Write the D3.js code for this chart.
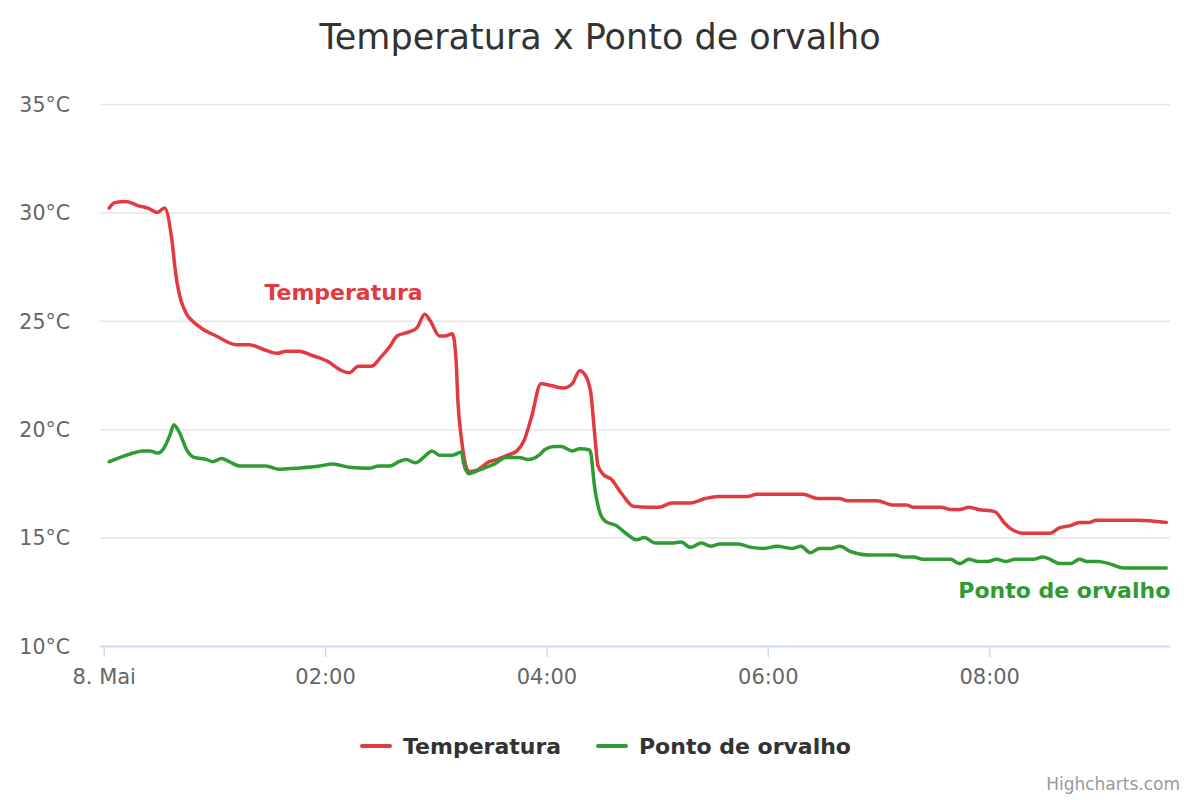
<!DOCTYPE html>
<html>
<head>
<meta charset="utf-8">
<script src="https://cdn.jsdelivr.net/npm/d3@7"></script>
<style>
  html, body { margin: 0; padding: 0; background: #fff; }
  svg { display: block; font-family: "DejaVu Sans", "Lucida Grande", Arial, sans-serif; }
</style>
</head>
<body>
<svg id="chart" width="1200" height="800"></svg>
<script>
// ---- data (minutes after 00:00 on 8 May, °C) ----
const seriesNames = ["Temperatura", "Ponto de orvalho"];
const seriesColors = ["#e23b3f", "#2f9b33"];

const tempTime = [3, 6, 12, 19, 24, 29, 33, 37, 39, 45, 48, 54, 61, 72, 79, 86, 94, 99, 106, 113,
  122, 128, 133, 138, 145, 150, 155, 159, 166, 170, 174, 177, 182, 185, 189, 191, 192, 194, 198, 202,
  209, 213, 219, 224, 228, 232, 237, 243, 249, 254, 258, 261, 264, 266, 268, 271, 275, 281, 287, 295,
  301, 308, 318, 326, 333, 349, 354, 379, 387, 399, 403, 419, 428, 435, 439, 454, 459, 464, 469, 474,
  483, 488, 491, 499, 513, 518, 524, 529, 534, 538, 560, 576];
const tempValue = [30.2, 30.45, 30.5, 30.3, 30.2, 30.0, 30.2, 28.7, 27.2, 25.3, 25.0, 24.6, 24.3, 23.9, 23.9, 23.7, 23.5, 23.6, 23.6, 23.4,
  23.1, 22.75, 22.6, 22.9, 22.9, 23.3, 23.8, 24.3, 24.5, 24.7, 25.3, 25.0, 24.3, 24.3, 24.4, 23.2, 21.3, 19.5, 18.05, 18.1,
  18.5, 18.6, 18.8, 19.0, 19.5, 20.6, 22.1, 22.0, 21.9, 22.1, 22.7, 22.5, 21.7, 19.9, 18.3, 17.9, 17.7, 17.0, 16.45, 16.4,
  16.4, 16.6, 16.6, 16.8, 16.9, 16.9, 17.0, 17.0, 16.8, 16.8, 16.7, 16.7, 16.5, 16.5, 16.4, 16.4, 16.3, 16.3, 16.4, 16.3,
  16.2, 15.7, 15.45, 15.2, 15.2, 15.45, 15.55, 15.7, 15.7, 15.8, 15.8, 15.7];

const dewTime = [3, 9, 16, 21, 25, 29, 32, 36, 38, 41, 45, 49, 56, 59, 64, 68, 74, 88, 95, 104,
  117, 124, 133, 144, 149, 155, 160, 164, 169, 174, 178, 182, 189, 194, 195, 198, 203, 209, 212, 218,
  225, 230, 236, 239, 244, 248, 254, 258, 263, 264, 266, 269, 272, 278, 283, 289, 293, 299, 308, 313,
  318, 324, 329, 334, 344, 351, 358, 365, 373, 378, 383, 388, 394, 399, 405, 414, 429, 434, 439, 444,
  459, 464, 469, 474, 479, 484, 489, 494, 504, 509, 513, 518, 524, 529, 533, 539, 545, 553, 576];
const dewValue = [18.5, 18.7, 18.9, 19.0, 19.0, 18.9, 19.05, 19.75, 20.2, 19.85, 19.05, 18.7, 18.6, 18.5, 18.65, 18.5, 18.3, 18.3, 18.15, 18.2,
  18.3, 18.4, 18.25, 18.2, 18.3, 18.3, 18.5, 18.6, 18.45, 18.75, 19.0, 18.8, 18.8, 18.95, 18.45, 17.95, 18.1, 18.3, 18.4, 18.7,
  18.7, 18.6, 18.8, 19.05, 19.2, 19.2, 19.0, 19.1, 19.05, 18.9, 17.4, 16.15, 15.75, 15.55, 15.2, 14.9, 15.0, 14.75, 14.75, 14.8,
  14.55, 14.75, 14.6, 14.7, 14.7, 14.55, 14.5, 14.6, 14.5, 14.6, 14.3, 14.5, 14.5, 14.6, 14.35, 14.2, 14.2, 14.1, 14.1, 14.0,
  14.0, 13.8, 14.0, 13.9, 13.9, 14.0, 13.9, 14.0, 14.0, 14.1, 14.0, 13.8, 13.8, 14.0, 13.9, 13.9, 13.8, 13.6, 13.6];

const yTicks = [10, 15, 20, 25, 30, 35];
const xTicks = [0, 120, 240, 360, 480];
const xTickLabels = ["8. Mai", "02:00", "04:00", "06:00", "08:00"];
const titleText = "Temperatura x Ponto de orvalho";
const creditText = "Highcharts.com";

// ---- layout ----
const svg = d3.select("#chart");
const plot = { left: 100, right: 1170, top: 104, bottom: 646 };

const x = d3.scaleLinear().domain([-2, 578]).range([plot.left, plot.right]);
const y = d3.scaleLinear().domain([10, 35]).range([plot.bottom, plot.top]);

// title
svg.append("text")
  .attr("x", 600).attr("y", 49)
  .attr("text-anchor", "middle")
  .attr("fill", "#333333")
  .attr("font-size", 35)
  .text(titleText);

// grid lines
const yAxis = d3.axisLeft(y).tickValues(yTicks)
  .tickSize(-(plot.right - plot.left)).tickPadding(30)
  .tickFormat(d => d + "°C");
const gy = svg.append("g").attr("transform", `translate(${plot.left},0)`).call(yAxis);
gy.select(".domain").remove();
gy.selectAll(".tick line").attr("stroke", "#e6e6e6").attr("stroke-width", 1.5);
gy.selectAll(".tick text")
  .attr("fill", "#666666").attr("font-size", 20.5)
  .attr("font-family", "DejaVu Sans, sans-serif")
  .attr("dy", "0.36em");

// x axis
const xAxis = d3.axisBottom(x).tickValues(xTicks)
  .tickSize(11).tickPadding(12)
  .tickFormat((d, i) => xTickLabels[i]);
const gx = svg.append("g").attr("transform", `translate(0,${plot.bottom})`).call(xAxis);
gx.select(".domain").attr("stroke", "#ccd6eb").attr("stroke-width", 1.5)
  .attr("d", `M${plot.left},0.5H${plot.right}`);
gx.selectAll(".tick line").attr("stroke", "#ccd6eb").attr("stroke-width", 1.5);
gx.selectAll(".tick text")
  .attr("fill", "#666666").attr("font-size", 21)
  .attr("font-family", "DejaVu Sans, sans-serif");

// lines
const series = [
  { name: seriesNames[0], color: seriesColors[0], t: tempTime, v: tempValue },
  { name: seriesNames[1], color: seriesColors[1], t: dewTime, v: dewValue }
];
const line = d3.line()
  .x(d => x(d[0])).y(d => y(d[1]))
  .curve(d3.curveMonotoneX);
series.forEach(s => {
  const pts = s.t.map((t, i) => [t, s.v[i]]);
  svg.append("path")
    .datum(pts)
    .attr("fill", "none")
    .attr("stroke", s.color)
    .attr("stroke-width", 3.5)
    .attr("stroke-linejoin", "round")
    .attr("stroke-linecap", "round")
    .attr("d", line);
});

// series labels (placed near the series)
svg.append("text")
  .attr("x", x(130)).attr("y", y(25.95))
  .attr("text-anchor", "middle")
  .attr("fill", seriesColors[0]).attr("font-weight", "bold").attr("font-size", 22)
  .text(seriesNames[0]);
svg.append("text")
  .attr("x", x(576) + 4).attr("y", y(12.2))
  .attr("text-anchor", "end")
  .attr("fill", seriesColors[1]).attr("font-weight", "bold").attr("font-size", 22)
  .text(seriesNames[1]);

// legend
const legend = svg.append("g");
const legendItems = [
  { x: 362, name: seriesNames[0], color: seriesColors[0] },
  { x: 598, name: seriesNames[1], color: seriesColors[1] }
];
legendItems.forEach(it => {
  legend.append("line")
    .attr("x1", it.x).attr("x2", it.x + 28)
    .attr("y1", 746).attr("y2", 746)
    .attr("stroke", it.color).attr("stroke-width", 4).attr("stroke-linecap", "round");
  legend.append("text")
    .attr("x", it.x + 41).attr("y", 754)
    .attr("fill", "#333333").attr("font-weight", "bold").attr("font-size", 22)
    .text(it.name);
});

// credits
svg.append("text")
  .attr("x", 1180).attr("y", 790)
  .attr("text-anchor", "end")
  .attr("fill", "#999999").attr("font-size", 17)
  .text(creditText);
</script>
</body>
</html>
